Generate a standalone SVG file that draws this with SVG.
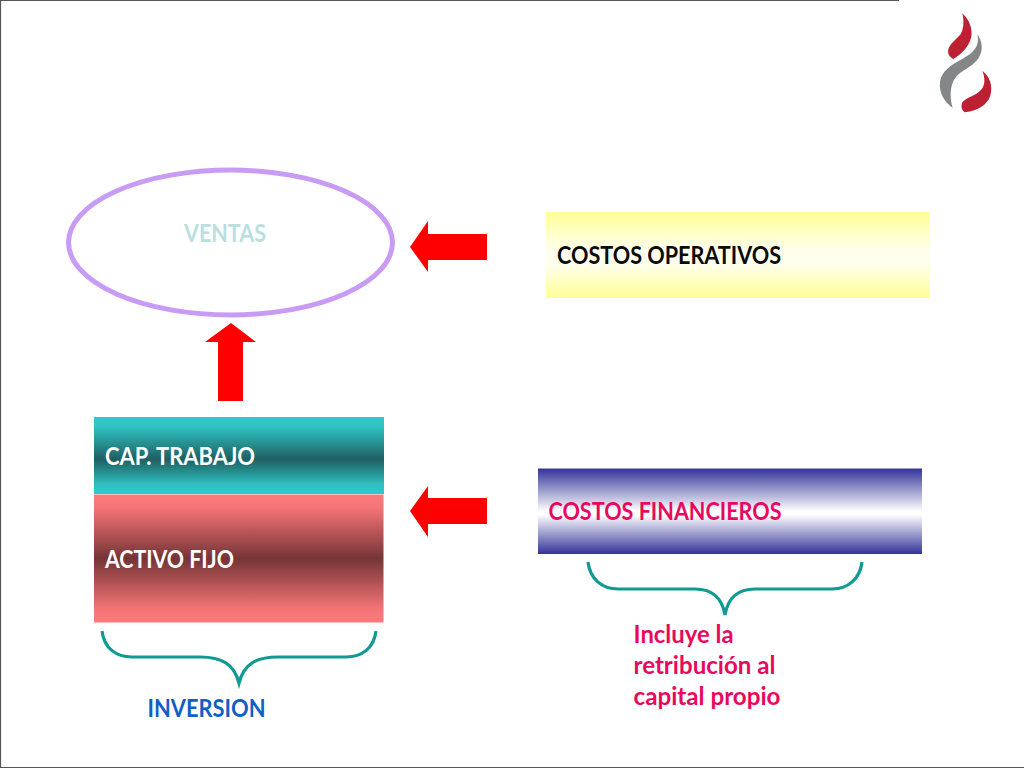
<svg xmlns="http://www.w3.org/2000/svg" width="1024" height="768" viewBox="0 0 1024 768">
<defs>
<linearGradient id="gT" x1="0" y1="0" x2="0" y2="1"><stop offset="0" stop-color="#2fcaca"/><stop offset="0.12" stop-color="#2fc4c4"/><stop offset="0.55" stop-color="#1f5f62"/><stop offset="0.88" stop-color="#2fc0c0"/><stop offset="1" stop-color="#2fcaca"/></linearGradient>
<linearGradient id="gA" x1="0" y1="0" x2="0" y2="1"><stop offset="0" stop-color="#fc7a7c"/><stop offset="0.1" stop-color="#f57577"/><stop offset="0.5" stop-color="#763436"/><stop offset="0.9" stop-color="#f57577"/><stop offset="1" stop-color="#fc7a7c"/></linearGradient>
<linearGradient id="gY" x1="0" y1="0" x2="0" y2="1"><stop offset="0" stop-color="#ffff99"/><stop offset="0.45" stop-color="#ffffee"/><stop offset="0.6" stop-color="#ffffee"/><stop offset="1" stop-color="#ffff99"/></linearGradient>
<linearGradient id="gB" x1="0" y1="0" x2="0" y2="1"><stop offset="0" stop-color="#333399"/><stop offset="0.5" stop-color="#ffffff"/><stop offset="0.54" stop-color="#ffffff"/><stop offset="1" stop-color="#333399"/></linearGradient>
</defs>
<style>
text{font-family:"Lato","Liberation Sans",sans-serif;font-weight:700;font-size:24px}
.arrow{fill:#ff0000}
.brace{fill:none;stroke:#0f9a92;stroke-width:3.2}
</style>
<rect width="1024" height="768" fill="#ffffff"/>
<path d="M0 .5H899M.5 0V768M0 767.5H1024" fill="none" stroke="#555555" stroke-width="1.2"/>
<g id="logo" transform="translate(900 0) scale(.3333)">
<path fill="#be2033" d="M187 40C207 58 218 85 214 110C209 137 185 162 160 177C149 172 142 162 145 148C150 130 170 118 182 102C192 85 192 62 187 40Z"/>
<path fill="#858688" d="M232 103C248 125 250 152 236 174C220 198 192 208 174 224C152 244 146 282 158 324C134 306 116 280 120 246C124 212 155 194 188 176C222 158 240 138 232 103Z"/>
<path fill="#be2033" d="M247 212C270 230 279 257 271 287C262 314 235 331 195 337C185 332 182 320 187 307C197 293 228 287 243 270C256 255 256 235 247 212Z"/>
</g>
<g id="ventas">
<ellipse cx="230.500" cy="242.500" rx="162" ry="72.500" fill="#ffffff" stroke="#c89bf5" stroke-width="5"/>
<text x="184" y="242" fill="#b9dfe0" textLength="82" lengthAdjust="spacingAndGlyphs">VENTAS</text>
</g>
<g id="costos-operativos">
<rect x="546" y="212" width="384" height="86" fill="url(#gY)"/>
<text x="557" y="264" fill="#0a0a0a" textLength="224" lengthAdjust="spacingAndGlyphs">COSTOS OPERATIVOS</text>
</g>
<g id="cap-trabajo">
<rect x="94" y="417" width="290" height="77" fill="url(#gT)"/>
<text x="105" y="465" fill="#ffffff" textLength="150" lengthAdjust="spacingAndGlyphs">CAP. TRABAJO</text>
</g>
<g id="activo-fijo">
<rect x="94" y="494.500" width="289.500" height="128" fill="url(#gA)"/>
<text x="105" y="568" fill="#ffffff" textLength="129" lengthAdjust="spacingAndGlyphs">ACTIVO FIJO</text>
</g>
<g id="costos-financieros">
<rect x="538" y="468.500" width="384" height="85.500" fill="url(#gB)"/>
<text x="548.500" y="520" fill="#e8095e" textLength="233" lengthAdjust="spacingAndGlyphs">COSTOS FINANCIEROS</text>
</g>
<g id="inversion">
<text x="147.500" y="717" fill="#0f5fc4" textLength="118" lengthAdjust="spacingAndGlyphs">INVERSION</text>
</g>
<g id="nota">
<text x="633.500" y="643" fill="#e8095e" textLength="100" lengthAdjust="spacingAndGlyphs">Incluye la</text>
<text x="633.500" y="674" fill="#e8095e" textLength="142" lengthAdjust="spacingAndGlyphs">retribución al</text>
<text x="633.500" y="705" fill="#e8095e" textLength="147" lengthAdjust="spacingAndGlyphs">capital propio</text>
</g>
<g id="connectors">
<path class="arrow" d="M487 234V260H428V272L410 247L428 221V234Z"/>
<path class="arrow" d="M487 498V524H428V537L410 511L428 486V498Z"/>
<path class="arrow" d="M218 401V342H205L231 323L256 342H243V401Z"/>
<path class="brace" d="M102 631C104 648 116 657 132 657H200C222 657 234 664 239 683C244 664 256 657 278 657H346C362 657 374 648 376 631"/>
<path class="brace" d="M588 562C590 579 602 589 618 589H695C712 589 722 597 725 615C728 597 738 589 755 589H832C848 589 860 579 862 562"/>
</g>
</svg>
